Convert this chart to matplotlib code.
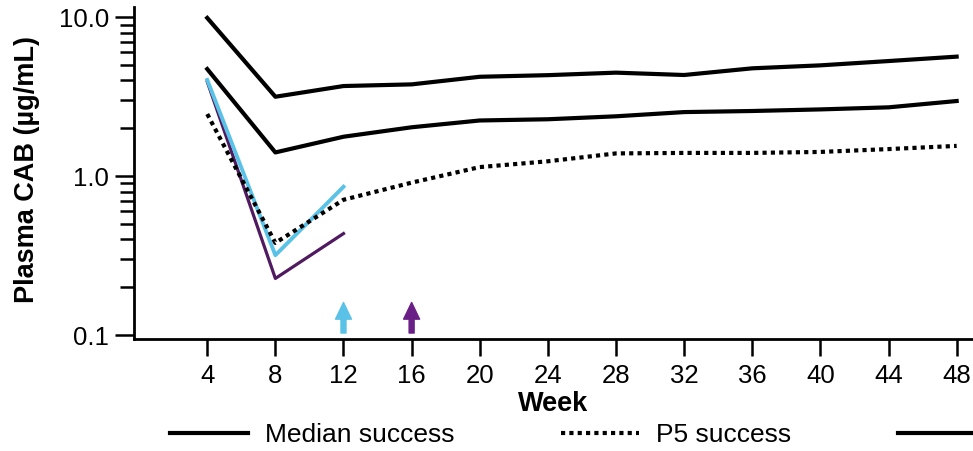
import numpy as np
import matplotlib.pyplot as plt
from matplotlib.ticker import FixedLocator, LogLocator, NullFormatter, FixedFormatter

plt.rcParams['font.family'] = ['Liberation Sans', 'DejaVu Sans']

# simulated concentrations (ug/mL) by week
weeks = [4, 8, 12, 16, 20, 24, 28, 32, 36, 40, 44, 48]
p95_success = [9.9, 3.16, 3.69, 3.78, 4.22, 4.32, 4.48, 4.33, 4.77, 4.98, 5.30, 5.65]
median_success = [4.72, 1.41, 1.77, 2.03, 2.24, 2.28, 2.38, 2.53, 2.57, 2.63, 2.71, 2.97]
p5_success = [2.46, 0.38, 0.71, 0.91, 1.14, 1.24, 1.39, 1.40, 1.40, 1.42, 1.48, 1.55]

# two individual participants
ppt_weeks = [4, 8, 12]
ppt_cyan = [4.03, 0.318, 0.857]
ppt_purple = [3.93, 0.227, 0.435]
arrow_weeks = [12, 16]

cyan = '#5bc2e7'
purple = '#4f1a60'
purple_arrow = '#6a1f86'

fig = plt.figure(figsize=(9.73, 4.51), dpi=100)
ax = fig.add_axes([134 / 973, 1 - 339 / 451, 1 - 134 / 973, (339 - 7) / 451])

ax.plot(ppt_weeks, ppt_purple, color=purple, lw=2.3)
ax.plot(ppt_weeks, ppt_cyan, color=cyan, lw=2.8)
ax.plot(weeks, median_success, color='black', lw=3, label='Median success')
ax.plot(weeks, p5_success, color='black', lw=3, linestyle=(0, (1, 1)),
        dash_capstyle='butt', label='P5 success')
ax.plot(weeks, p95_success, color='black', lw=3, label='P95 success')

# arrows marking time points
for wk, col in zip(arrow_weeks, [cyan, purple_arrow]):
    ax.annotate('', xy=(wk, 0.11), xytext=(wk, 0.018),
                xycoords=ax.get_xaxis_transform(),
                arrowprops=dict(width=3.6, headwidth=11.5, headlength=12,
                                color=col, shrink=0))

ax.set_yscale('log')
ax.set_ylim(0.0944, 11.6)
ax.set_xlim(-0.3, 48.96)

ax.yaxis.set_major_locator(FixedLocator([0.1, 1, 10]))
ax.yaxis.set_major_formatter(FixedFormatter(['0.1', '1.0', '10.0']))
ax.yaxis.set_minor_locator(LogLocator(base=10, subs=np.arange(2, 10)))
ax.yaxis.set_minor_formatter(NullFormatter())
ax.set_xticks(weeks)

for s in ['top', 'right']:
    ax.spines[s].set_visible(False)
for s in ['left', 'bottom']:
    ax.spines[s].set_linewidth(2)

ax.tick_params(axis='y', which='major', length=14, width=1.8, labelsize=18.5, pad=4)
ax.tick_params(axis='y', which='minor', length=10, width=1.8)
ax.tick_params(axis='x', length=12, width=1.8, labelsize=18.5, pad=6)

ax.set_ylabel('Plasma CAB (µg/mL)', fontsize=19.5, fontweight='bold')
ax.yaxis.set_label_coords(-0.112, 0.512)
ax.set_xlabel('Week', fontsize=19.5, fontweight='bold', labelpad=2)

fig.legend(loc='center left', bbox_to_anchor=(170 / 973, 1 - 435 / 451),
           ncol=3, frameon=False, fontsize=19, handlelength=2.95,
           handletextpad=0.64, columnspacing=4.05, borderpad=0, borderaxespad=0)

fig.savefig('out.png', dpi=100)
